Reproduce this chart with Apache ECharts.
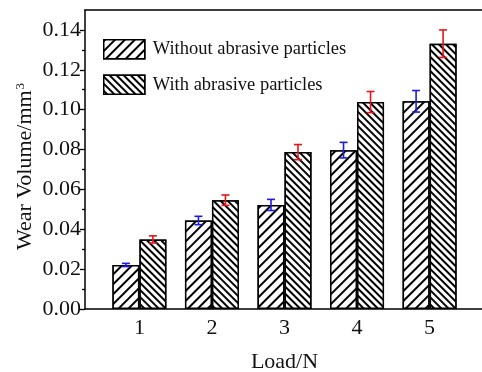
<!DOCTYPE html>
<html><head><meta charset="utf-8">
<script src="https://cdn.jsdelivr.net/npm/echarts@6/dist/echarts.min.js"></script>
<style>html,body{margin:0;padding:0;background:#fff}#c{width:482px;height:372px}</style>
</head><body><div id="c"></div>
<script>
var loads = [1, 2, 3, 4, 5];
var seriesNames = ['Without abrasive particles', 'With abrasive particles'];
var withoutVals = [0.0221, 0.0444, 0.0522, 0.0797, 0.1042];
var withoutErr  = [0.0008, 0.0021, 0.0028, 0.0039, 0.0054];
var withVals    = [0.0349, 0.0546, 0.0787, 0.1038, 0.1331];
var withErr     = [0.0018, 0.0026, 0.0038, 0.0053, 0.0069];
var yLabelVals  = [0, 0.02, 0.04, 0.06, 0.08, 0.10, 0.12, 0.14];
var yMinorVals  = [0.01, 0.03, 0.05, 0.07, 0.09, 0.11, 0.13];

var FONT = '"Liberation Serif","Times New Roman",serif';
var BAR_W = 27;

function barData(vals){ return loads.map(function(l,i){ return [l, vals[i]]; }); }
function errData(vals, errs){ return loads.map(function(l,i){ return [l, vals[i]-errs[i], vals[i]+errs[i]]; }); }

function errRender(offset, color){
  return function(params, api){
    var x = api.value(0);
    var lo = api.coord([x, api.value(1)]);
    var hi = api.coord([x, api.value(2)]);
    var cx = lo[0] + offset;
    var cap = 4;
    var st = {stroke: color, lineWidth: 1.6};
    return {type:'group', children:[
      {type:'line', shape:{x1:cx, y1:lo[1], x2:cx, y2:hi[1]}, style:st},
      {type:'line', shape:{x1:cx-cap, y1:lo[1], x2:cx+cap, y2:lo[1]}, style:st},
      {type:'line', shape:{x1:cx-cap, y1:hi[1], x2:cx+cap, y2:hi[1]}, style:st}
    ]};
  };
}

var decal1 = {symbol:'rect', symbolSize:1, dashArrayX:[1,0], dashArrayY:[1.1,4.2], rotation:-Math.PI/4, color:'#000', backgroundColor:'#fff'};
var decal2 = {symbol:'rect', symbolSize:1, dashArrayX:[1,0], dashArrayY:[1.1,2.8], rotation:Math.PI/4, color:'#000', backgroundColor:'#fff'};

var chart = echarts.init(document.getElementById('c'), null, {renderer:'canvas'});
chart.setOption({
  animation:false,
  backgroundColor:'#fff',
  textStyle:{fontFamily:FONT},
  grid:{left:85, top:10, right:-2, bottom:63, containLabel:false, outerBoundsMode:'none'},
  legend:{
    orient:'vertical', left:98, top:34, itemWidth:41, itemHeight:19, itemGap:15,
    icon:'rect',
    data:seriesNames,
    textStyle:{fontFamily:FONT, fontSize:18.5, color:'#111', padding:[0,0,0,3]},
    itemStyle:{borderColor:'#000', borderWidth:1.5}
  },
  xAxis:[{
    type:'value', min:0.25, max:5.75, position:'bottom',
    name:'Load/N', nameLocation:'middle', nameGap:42, nameMoveOverlap:false,
    nameTextStyle:{fontFamily:FONT, fontSize:22, color:'#111'},
    axisLine:{show:true, lineStyle:{color:'#000', width:1.5}},
    axisTick:{show:false},
    axisLabel:{customValues:loads, fontFamily:FONT, fontSize:22, color:'#111', margin:8},
    splitLine:{show:false}
  },{
    type:'value', min:0.25, max:5.75, position:'top',
    axisLine:{show:true, onZero:false, lineStyle:{color:'#000', width:1.5}},
    axisTick:{show:false}, axisLabel:{show:false}, splitLine:{show:false}
  }],
  yAxis:[{
    type:'value', min:0, max:0.15, interval:0.01,
    name:'Wear Volume/mm{sup|3}', nameLocation:'middle', nameGap:49, nameMoveOverlap:false,
    nameTextStyle:{fontFamily:FONT, fontSize:22, color:'#111', padding:[0,14,0,0],
      rich:{sup:{fontFamily:FONT, fontSize:13, verticalAlign:'top', lineHeight:10, padding:[0,0,8,1]}}},
    axisLine:{show:true, lineStyle:{color:'#000', width:1.5}},
    axisTick:{show:true, customValues:yLabelVals, length:5, lineStyle:{color:'#000', width:1.3}},
    axisLabel:{customValues:yLabelVals, fontFamily:FONT, fontSize:22, color:'#111', margin:4,
      formatter:function(v){ return v.toFixed(2); }},
    splitLine:{show:false}
  },{
    type:'value', min:0, max:0.15, interval:0.01, position:'left',
    axisLine:{show:false},
    axisTick:{show:true, customValues:yMinorVals, length:3, lineStyle:{color:'#000', width:1.3}},
    axisLabel:{show:false}, splitLine:{show:false}
  }],
  series:[
    {name:seriesNames[0], type:'bar', xAxisIndex:0, yAxisIndex:0, barWidth:BAR_W, barGap:'0%',
     data:barData(withoutVals),
     itemStyle:{color:'#fff', borderColor:'#000', borderWidth:1.5, decal:decal1}},
    {name:seriesNames[1], type:'bar', xAxisIndex:0, yAxisIndex:0, barWidth:BAR_W, barGap:'0%',
     data:barData(withVals),
     itemStyle:{color:'#fff', borderColor:'#000', borderWidth:1.5, decal:decal2}},
    {type:'custom', xAxisIndex:0, yAxisIndex:0, data:errData(withoutVals, withoutErr),
     renderItem:errRender(-BAR_W/2, '#1c1ce0'), z:5},
    {type:'custom', xAxisIndex:0, yAxisIndex:0, data:errData(withVals, withErr),
     renderItem:errRender(BAR_W/2, '#e8141c'), z:5}
  ]
});
</script></body></html>
